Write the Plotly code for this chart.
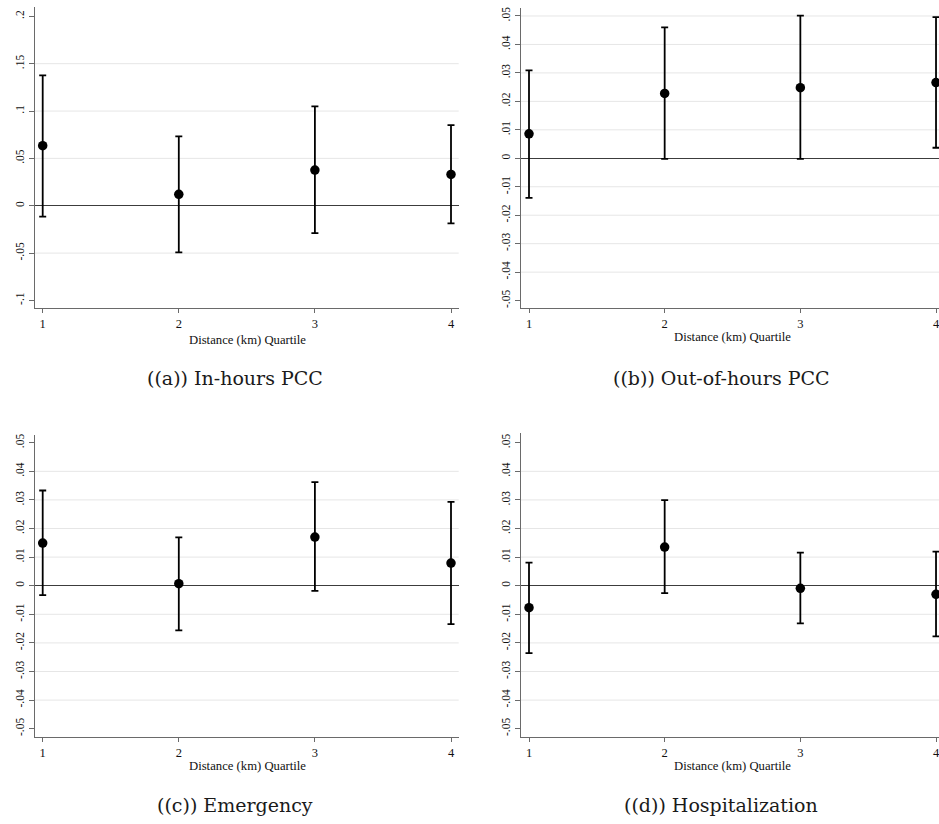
import plotly.graph_objects as go

# Distance quartiles on the x axis
quartiles = [1, 2, 3, 4]
quartile_labels = ["1", "2", "3", "4"]

# Point estimates with lower / upper confidence bounds per outcome
inhours_est = [0.0634, 0.0120, 0.0377, 0.0331]
inhours_lo = [-0.0116, -0.0493, -0.0289, -0.0187]
inhours_hi = [0.1377, 0.0732, 0.1049, 0.0852]

ooh_est = [0.0086, 0.0228, 0.0248, 0.0266]
ooh_lo = [-0.0139, -0.0002, -0.0002, 0.0037]
ooh_hi = [0.0309, 0.0460, 0.0501, 0.0496]

emerg_est = [0.0149, 0.0007, 0.0170, 0.0079]
emerg_lo = [-0.0033, -0.0156, -0.0018, -0.0134]
emerg_hi = [0.0333, 0.0169, 0.0362, 0.0293]

hosp_est = [-0.0077, 0.0135, -0.0009, -0.0030]
hosp_lo = [-0.0236, -0.0026, -0.0132, -0.0177]
hosp_hi = [0.0081, 0.0299, 0.0116, 0.0119]

# Y tick values / labels
ticks_wide = [-0.1, -0.05, 0, 0.05, 0.1, 0.15, 0.2]
ticklabels_wide = ["-.1", "-.05", "0", ".05", ".1", ".15", ".2"]
ticks_narrow = [-0.05, -0.04, -0.03, -0.02, -0.01, 0, 0.01, 0.02, 0.03, 0.04, 0.05]
ticklabels_narrow = ["-.05", "-.04", "-.03", "-.02", "-.01", "0",
                     ".01", ".02", ".03", ".04", ".05"]

captions = ["((a)) In-hours PCC", "((b)) Out-of-hours PCC",
            "((c)) Emergency", "((d)) Hospitalization"]
x_title = "Distance (km) Quartile"

W, H = 939, 824


def px_x(v):
    return v / W


def px_y(v):
    return 1 - v / H


SERIF = "Liberation Serif"
CAPTION_FONT = "DejaVu Serif"
AXIS_GREY = "#6a6a6a"
GRID_GREY = "#e6e6e6"

# panel geometry in pixels: left, right, top, bottom, xrange, yrange
panels = [
    dict(est=inhours_est, lo=inhours_lo, hi=inhours_hi,
         left=35, right=458.7, top=6.7, bottom=308,
         xr=[0.9434, 4.0566], yr=[-0.108, 0.2102],
         ticks=ticks_wide, labels=ticklabels_wide,
         grid=[v for v in ticks_wide[1:-1] if v != 0],
         title_x=247, title_y=340, cap_x=235, cap_y=378),
    dict(est=ooh_est, lo=ooh_lo, hi=ooh_hi,
         left=521, right=939, top=8.3, bottom=308,
         xr=[0.941, 4.022], yr=[-0.0526, 0.0527],
         ticks=ticks_narrow, labels=ticklabels_narrow,
         grid=[v for v in ticks_narrow[1:] if v != 0],
         title_x=732, title_y=337, cap_x=721, cap_y=378),
    dict(est=emerg_est, lo=emerg_lo, hi=emerg_hi,
         left=35, right=458.7, top=435, bottom=736.7,
         xr=[0.9434, 4.0566], yr=[-0.0528, 0.0527],
         ticks=ticks_narrow, labels=ticklabels_narrow,
         grid=[v for v in ticks_narrow[1:-1] if v != 0],
         title_x=247, title_y=766, cap_x=235, cap_y=805),
    dict(est=hosp_est, lo=hosp_lo, hi=hosp_hi,
         left=521, right=939, top=433.3, bottom=736.7,
         xr=[0.941, 4.022], yr=[-0.0528, 0.0533],
         ticks=ticks_narrow, labels=ticklabels_narrow,
         grid=[v for v in ticks_narrow[1:-1] if v != 0],
         title_x=732, title_y=766, cap_x=721, cap_y=805),
]

fig = go.Figure()
shapes = []
annotations = []
layout_axes = {}

for i, p in enumerate(panels):
    n = "" if i == 0 else str(i + 1)
    xa, ya = "x" + n, "y" + n
    up = [h - e for h, e in zip(p["hi"], p["est"])]
    dn = [e - l for e, l in zip(p["est"], p["lo"])]
    fig.add_trace(go.Scatter(
        x=quartiles, y=p["est"], mode="markers",
        marker=dict(color="black", size=9.5),
        error_y=dict(type="data", symmetric=False, array=up, arrayminus=dn,
                     color="black", thickness=1.8, width=3.5),
        xaxis=xa, yaxis=ya, showlegend=False, hoverinfo="x+y",
    ))

    layout_axes["xaxis" + n] = dict(
        domain=[px_x(p["left"]), min(1.0, px_x(p["right"]))],
        range=p["xr"], anchor=ya,
        tickmode="array", tickvals=quartiles, ticktext=quartile_labels,
        ticks="outside", ticklen=4, tickwidth=1, tickcolor=AXIS_GREY,
        ticklabeloverflow="allow",
        showline=True, linecolor=AXIS_GREY, linewidth=1.3,
        showgrid=False, zeroline=False,
        tickfont=dict(family=SERIF, size=12.5, color="#111"),
    )
    layout_axes["yaxis" + n] = dict(
        domain=[px_y(p["bottom"]), px_y(p["top"])],
        range=p["yr"], anchor=xa,
        tickmode="array", tickvals=p["ticks"], ticktext=p["labels"],
        tickangle=-90,
        ticks="outside", ticklen=5, tickwidth=1, tickcolor=AXIS_GREY,
        showline=True, linecolor=AXIS_GREY, linewidth=1.3,
        showgrid=False,
        zeroline=True, zerolinecolor="#3c3c3c", zerolinewidth=1.2,
        tickfont=dict(family=SERIF, size=11.5, color="#111"),
    )

    for g in p["grid"]:
        shapes.append(dict(type="line", xref=xa + " domain", yref=ya,
                           x0=0, x1=1, y0=g, y1=g, layer="below",
                           line=dict(color=GRID_GREY, width=1)))

    annotations.append(dict(
        text=x_title, xref="paper", yref="paper",
        x=px_x(p["title_x"]), y=px_y(p["title_y"]),
        xanchor="center", yanchor="middle",
        showarrow=False, font=dict(family=SERIF, size=12.7, color="#111"),
    ))
    annotations.append(dict(
        text=captions[i], xref="paper", yref="paper",
        x=px_x(p["cap_x"]), y=px_y(p["cap_y"]),
        xanchor="center", yanchor="middle", showarrow=False,
        font=dict(family=CAPTION_FONT, size=19, color="#1a1a1a"),
    ))

fig.update_layout(
    width=W, height=H,
    margin=dict(l=0, r=0, t=0, b=0),
    paper_bgcolor="white", plot_bgcolor="white",
    shapes=shapes, annotations=annotations,
    **layout_axes,
)

fig.write_html("out.html", config={"displayModeBar": False})
